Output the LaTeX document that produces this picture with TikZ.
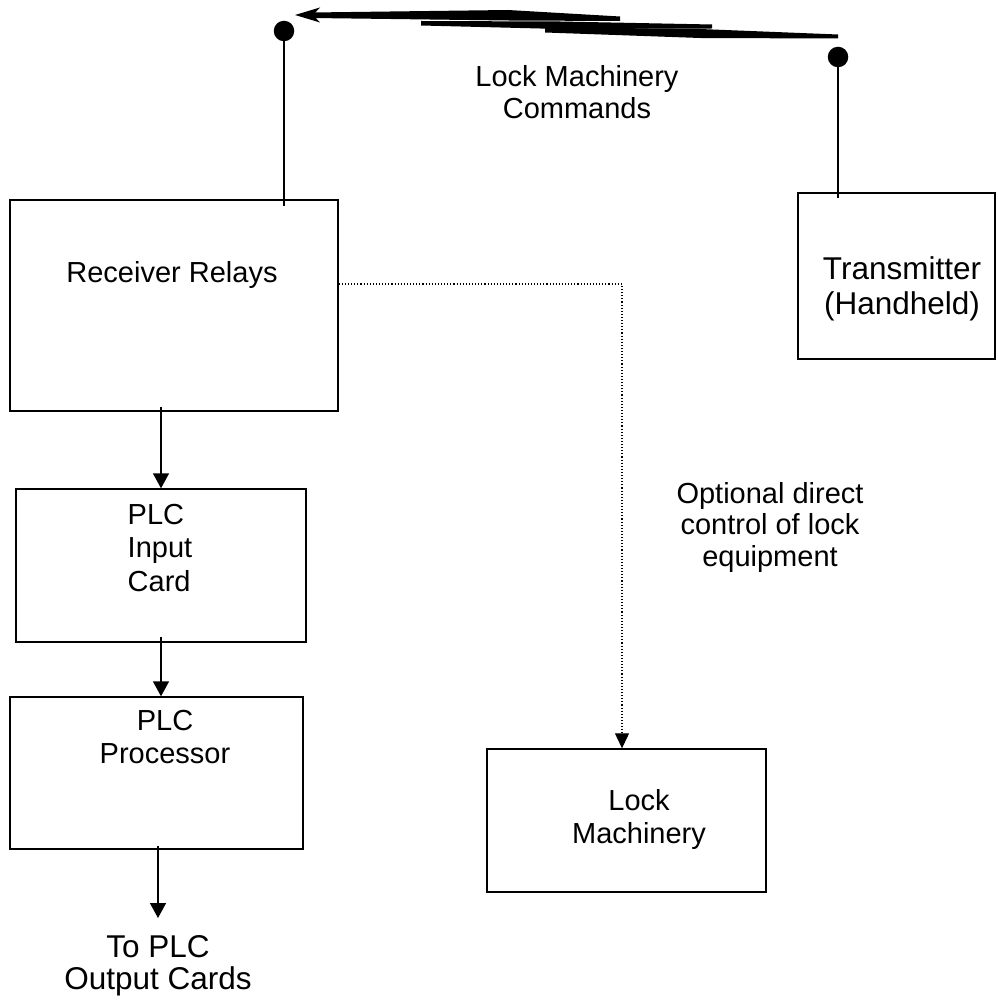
\documentclass[tikz,border=0pt]{standalone}
\usepackage{fontspec}
\setmainfont{Liberation Sans}
\usetikzlibrary{arrows.meta,calc}
\begin{document}
\begin{tikzpicture}[x=1pt,y=-1pt,
  box/.style={draw, line width=1.4pt, inner sep=0pt},
  txt/.style={font=\fontsize{29}{33.5}\selectfont, align=center, inner sep=0pt},
  bigtxt/.style={font=\fontsize{31.5}{35}\selectfont, align=center, inner sep=0pt},
  wire/.style={line width=1.4pt},
  flow/.style={line width=1.4pt, -{Triangle[length=15pt,width=16pt]}},
  dotline/.style={line width=1.1pt, dash pattern=on 1.1pt off 2pt, -{Triangle[length=15pt,width=14pt]}},
  antdot/.style={circle, fill, inner sep=0pt, minimum width=18.5pt, minimum height=20.5pt}
]
\useasboundingbox (0,0) rectangle (997,1000);

% blocks
\node[box, minimum width=328pt, minimum height=211pt] (recv) at (174,305.5) {};
\node[box, minimum width=290pt, minimum height=153pt] (inp) at (161,565.5) {};
\node[box, minimum width=293pt, minimum height=152pt] (proc) at (156.5,773) {};
\node[box, minimum width=279pt, minimum height=143pt] (lock) at (626.5,820.5) {};
\node[box, minimum width=197pt, minimum height=166pt] (tx) at (896.5,276) {};

% block labels
\node[txt, anchor=base] (recvlbl) at (172,282) {Receiver Relays};
\node[txt, anchor=north west, align=left] (inplbl) at (127.5,504) {PLC\\Input\\Card};
\node[txt, anchor=north] (proclbl) at (165,710) {PLC\\Processor};
\node[txt, anchor=north] (locklbl) at (639,789) {Lock\\Machinery};
\node[bigtxt, anchor=north] (txlbl) at (902,256) {Transmitter\\(Handheld)};
\node[bigtxt, anchor=north, font=\fontsize{31.5}{32.5}\selectfont] (out) at (158,935) {To PLC\\Output Cards};

% free-standing labels
\node[txt, anchor=north, font=\fontsize{29}{32}\selectfont] (cmd) at (577,65) {Lock Machinery\\Commands};
\node[txt, anchor=north, font=\fontsize{29}{31.5}\selectfont] (opt) at (770,482) {Optional direct\\control of lock\\equipment};

% antennas
\node[antdot] (ldot) at (284,31) {};
\node[antdot] (rdot) at (838,57) {};
\draw[wire] (ldot.center) -- ($(ldot.center |- recv.north)+(0,7)$);
\draw[wire] (rdot.center) -- ($(rdot.center |- tx.north)+(0,6)$);

% radio link (lightning arrow): three overlapping tapered strokes
\fill (295,15) -- (320,7.5) -- (313,15) -- (320,22.5) -- cycle;
\fill (312,12.5) -- (508,10) -- (620,16.5) -- (620,21) -- (508,20.5) -- (312,18) -- cycle;
\fill (421,21) -- (560,21.5) -- (712,24.5) -- (712,28.5) -- (560,29) -- (421,25.5) -- cycle;
\fill (545,27.5) -- (700,29) -- (838,34.5) -- (838,38.5) -- (700,38) -- (545,32.5) -- cycle;

% signal flow
\draw[flow] ($(recv.south -| inp.north)+(0,-5)$) -- (inp.north);
\draw[flow] ($(inp.south)+(0,-6)$) -- (inp.south |- proc.north);
\draw[flow] ($(proc.south -| out.north)+(0,-4)$) -- ($(out.north)+(0,-17)$);
\draw[dotline] ($(recv.east)+(0,-21.5)$) -| ($(lock.north)+(-4.5,0)$);
\end{tikzpicture}
\end{document}
